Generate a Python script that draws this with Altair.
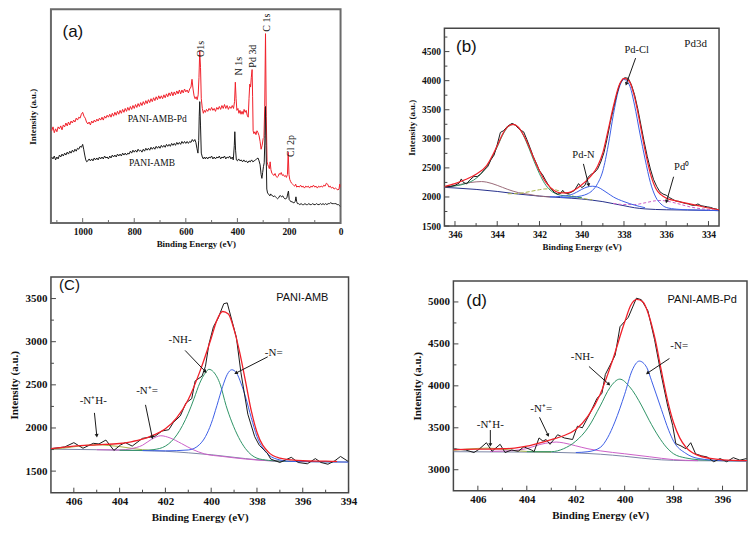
import altair as alt
import pandas as pd

SERIF = "Liberation Serif"
SANS = "Liberation Sans"
INK = "#111111"
FRAME = "#474747"
RED = "#f0202a"
BLACK = "#1a1a1a"
BLUE = "#3c5ee6"
GREEN = "#2f9466"
PINK = "#cc5fc8"
OLIVE = "#a9b548"
NAVY = "#26308c"
MAUVE = "#9a6a78"
BGGRAY = "#7b86a6"

# ---------------- panel (a): survey spectra (binding energy, arbitrary intensity) ----------------
a_red = [(1120,95),(1115,99),(1110,93),(1105,97),(1100,94),(1095,99),(1090,97),(1085,100),(1080,96),(1075,101),
 (1070,99),(1065,103),(1060,100),(1055,104),(1050,101),(1045,105),(1040,103),(1035,106),(1030,104),(1025,108),
 (1020,106),(1015,109),(1010,108),(1005,112),(1000,114),(995,110),(990,108),(985,104),(980,102),(975,104),
 (970,101),(965,105),(960,103),(955,106),(950,104),(945,107),(940,105),(935,108),(930,106),(925,109),
 (920,106),(915,110),(910,108),(905,111),(900,109),(895,112),(890,109),(885,113),(880,110),(875,114),
 (870,111),(865,115),(860,112),(855,116),(850,113),(845,117),(840,114),(835,118),(830,115),(825,119),
 (820,116),(815,120),(810,117),(805,121),(800,118),(795,122),(790,119),(785,123),(780,120),(775,124),
 (770,121),(765,125),(760,122),(755,126),(750,123),(745,127),(740,124),(735,128),(730,125),(725,129),
 (720,126),(715,130),(710,127),(705,131),(700,128),(695,131),(690,128),(685,132),(680,129),(675,133),
 (670,130),(665,134),(660,131),(655,135),(650,131),(645,135),(640,132),(635,136),(630,133),(625,137),
 (620,133),(615,137),(610,134),(605,138),(600,135),(595,137),(590,134),(585,138),(580,140),(576,148),
 (572,138),(568,131),(564,128),(560,130),(556,127),(552,132),(549,150),(546,177),(543,160),(540,128),
 (536,118),(532,113),(528,116),(524,114),(520,117),(515,115),(510,118),(505,116),(500,119),(495,116),
 (490,118),(485,115),(480,119),(475,117),(470,120),(465,117),(460,121),(455,118),(450,122),(445,118),
 (440,121),(435,117),(430,120),(425,118),(420,121),(415,118),(411,125),(408,145),(405,128),(402,116),
 (398,118),(394,113),(390,116),(386,112),(382,115),(378,112),(374,117),(370,114),(366,116),(362,111),
 (358,109),(355,128),(352,143),(349,140),(346,150),(343,158),(341,130),(339,95),(336,92),(332,94),
 (328,91),(324,95),(320,93),(316,90),(312,84),(308,76),(304,80),(300,87),(297,88),(294,120),
 (291,195),(288,110),(285,63),(282,60),(279,58),(276,56),(273,63),(270,55),(266,51),(262,50),
 (258,49),(254,51),(250,48),(246,47),(242,48),(238,51),(234,50),(230,52),(226,49),(222,50),
 (218,48),(214,49),(210,47),(206,50),(203,73),(200,50),(197,45),(194,43),(190,41),(186,40),
 (182,39),(178,38),(174,40),(170,37),(165,38),(160,37),(155,39),(150,37),(145,38),(140,36),
 (135,38),(130,37),(125,38),(120,36),(115,38),(110,37),(105,39),(100,37),(95,38),(90,36),
 (85,38),(80,37),(75,38),(70,37),(65,39),(60,38),(55,41),(50,40),(45,37),(40,38),
 (35,36),(30,37),(25,35),(20,36),(15,35),(10,34),(6,35),(3,40),(1,37)]

a_blk = [(1120,68),(1115,66),(1110,69),(1105,65),(1100,68),(1095,66),(1090,70),(1085,68),(1080,71),(1075,69),
 (1070,72),(1065,70),(1060,73),(1055,71),(1050,74),(1045,72),(1040,75),(1035,73),(1030,76),(1025,74),
 (1020,77),(1015,76),(1010,79),(1005,78),(1000,81),(996,76),(992,70),(988,65),(984,63),(980,64),
 (975,66),(970,64),(965,66),(960,64),(955,67),(950,65),(945,67),(940,65),(935,68),(930,66),
 (925,68),(920,66),(915,69),(910,67),(905,68),(900,66),(895,69),(890,67),(885,70),(880,68),
 (875,70),(870,68),(865,71),(860,69),(855,71),(850,69),(845,72),(840,70),(835,72),(830,70),
 (825,72),(820,71),(815,74),(810,72),(805,75),(800,73),(795,75),(790,73),(785,76),(780,74),
 (775,75),(770,73),(765,76),(760,74),(755,77),(750,75),(745,77),(740,75),(735,78),(730,76),
 (725,78),(720,76),(715,79),(710,77),(705,79),(700,77),(695,80),(690,78),(685,80),(680,78),
 (675,81),(670,79),(665,81),(660,79),(655,82),(650,80),(645,82),(640,80),(635,83),(630,81),
 (625,83),(620,81),(615,84),(610,82),(605,84),(600,82),(595,84),(590,82),(585,84),(580,83),
 (575,86),(570,84),(565,86),(561,83),(557,77),(553,72),(550,85),(548,110),(546,125),(543,100),
 (540,72),(536,68),(532,66),(528,68),(524,66),(520,68),(515,66),(510,68),(505,67),(500,69),
 (495,66),(490,68),(485,66),(480,68),(475,67),(470,69),(465,66),(460,68),(455,67),(450,69),
 (445,66),(440,68),(435,67),(430,69),(425,66),(420,68),(416,65),(412,80),(410,94),(407,75),
 (404,65),(400,64),(395,66),(390,64),(385,65),(380,63),(375,65),(370,63),(365,64),(360,62),
 (355,64),(350,63),(345,65),(340,63),(335,64),(330,65),(325,66),(320,67),(316,64),(312,60),
 (308,50),(305,46),(302,52),(299,58),(296,62),(293,90),(291,120),(289,80),(286,35),(283,31),
 (280,30),(277,29),(274,28),(271,30),(268,29),(265,28),(262,28),(259,27),(256,28),(252,27),
 (248,26),(244,25),(240,26),(236,28),(232,28),(228,27),(224,28),(220,26),(216,25),(212,25),
 (208,26),(205,30),(202,33),(199,24),(196,23),(192,22),(188,22),(184,21),(180,21),(176,22),
 (173,27),(170,22),(167,20),(163,20),(158,19),(153,20),(148,19),(143,19),(138,20),(133,19),
 (128,19),(123,20),(118,19),(113,19),(108,20),(103,19),(98,19),(93,20),(88,19),(83,19),
 (78,20),(73,19),(68,20),(63,19),(58,20),(53,19),(48,20),(43,20),(38,21),(33,20),
 (28,20),(23,20),(18,20),(13,19),(8,19),(4,18),(1,17)]

a_xmaj = [0, 200, 400, 600, 800, 1000]
a_xmin = [100, 300, 500, 700, 900, 1100]
a_tag = [("(a)", 1038, 197)]
a_names = [("PANI-AMB-Pd", 711, 107), ("PANI-AMB", 731, 62)]
a_peaks = [("O1s", 540, 171), ("N 1s", 395, 152), ("Pd 3d", 338, 160), ("C 1s", 284, 197), ("Cl 2p", 192, 68)]

# ---------------- panel (b): Pd 3d ----------------
b_raw = [(346.45,2175),(346.2,2180),(346.0,2200),(345.8,2240),(345.7,2310),(345.6,2250),(345.45,2225),(345.3,2290),
 (345.1,2355),(344.95,2350),(344.8,2390),(344.6,2470),(344.45,2520),(344.3,2640),(344.15,2720),(344.0,2900),
 (343.85,3110),(343.7,3140),(343.5,3220),(343.3,3265),(343.15,3240),(343.0,3180),(342.85,3140),(342.75,3120),
 (342.6,2990),(342.45,2850),(342.3,2700),(342.15,2580),(342.0,2450),(341.85,2380),(341.7,2280),(341.55,2190),
 (341.4,2120),(341.3,2080),(341.15,2050),(341.0,2060),(340.9,2115),(340.8,2070),(340.65,2060),(340.5,2080),
 (340.35,2110),(340.15,2230),(340.0,2160),(339.85,2200),(339.7,2340),(339.55,2390),(339.4,2420),(339.25,2480),
 (339.1,2600),(338.95,2760),(338.8,3000),(338.65,3280),(338.5,3520),(338.35,3750),(338.2,3940),(338.05,4030),
 (337.95,4050),(337.8,4040),(337.65,3930),(337.5,3760),(337.35,3520),(337.2,3240),(337.05,2960),(336.9,2700),
 (336.75,2480),(336.6,2300),(336.45,2180),(336.3,2090),(336.15,2050),(336.0,2030),(335.85,1990),(335.7,1960),
 (335.55,1930),(335.4,1925),(335.25,1905),(335.1,1890),(334.95,1880),(334.8,1860),(334.65,1855),(334.5,1880),
 (334.35,1850),(334.2,1840),(334.05,1830),(333.9,1820),(333.75,1800),(333.6,1790),(333.5,1770)]
b_fit = [(346.5,2180),(346.0,2230),(345.5,2300),(345.0,2390),(344.5,2540),(344.0,2880),(343.75,3080),(343.5,3210),
 (343.25,3250),(343.0,3200),(342.75,3060),(342.5,2870),(342.25,2650),(342.0,2450),(341.75,2280),(341.5,2170),
 (341.25,2100),(341.0,2070),(340.75,2070),(340.5,2090),(340.25,2140),(340.0,2210),(339.75,2290),(339.5,2390),
 (339.25,2530),(339.0,2760),(338.75,3150),(338.5,3560),(338.25,3900),(338.0,4040),(337.75,3990),(337.5,3720),
 (337.25,3280),(337.0,2800),(336.75,2400),(336.5,2150),(336.25,2040),(336.0,1980),(335.5,1930),(335.0,1890),
 (334.5,1850),(334.0,1810),(333.5,1780)]
b_pdcl_32 = [(346.5,2180),(346.0,2190),(345.5,2230),(345.0,2320),(344.5,2520),(344.0,2860),(343.75,3060),(343.5,3200),
 (343.25,3245),(343.0,3200),(342.75,3050),(342.5,2840),(342.25,2610),(342.0,2400),(341.75,2230),(341.5,2120),
 (341.25,2060),(341.0,2030),(340.5,2010),(340.0,1990)]
b_pdn_32 = [(346.5,2165),(346.0,2195),(345.5,2235),(345.0,2260),(344.75,2265),(344.5,2255),(344.0,2200),(343.5,2130),
 (343.0,2075),(342.5,2045),(342.0,2015),(341.5,2000)]
b_pd0_32 = [(343.5,2055),(343.0,2060),(342.5,2090),(342.0,2125),(341.75,2138),(341.5,2140),(341.25,2125),(341.0,2095),
 (340.75,2060),(340.5,2025),(340.0,1980),(339.5,1950)]
b_pdn_52 = [(341.5,2000),(341.0,2010),(340.5,2040),(340.25,2080),(340.0,2130),(339.75,2170),(339.5,2185),(339.25,2170),
 (339.0,2120),(338.75,2060),(338.5,2000),(338.0,1920),(337.5,1860),(337.0,1815)]
b_pdcl_52 = [(341.0,1990),(340.5,1995),(340.0,2020),(339.75,2050),(339.5,2110),(339.25,2230),(339.0,2450),(338.75,2880),
 (338.5,3420),(338.25,3850),(338.0,4020),(337.75,3930),(337.5,3580),(337.25,3100),(337.0,2650),(336.75,2250),
 (336.5,2000),(336.25,1880),(336.0,1820),(335.5,1790),(335.0,1780),(334.5,1775),(334.0,1770),(333.5,1765)]
b_pd0_52 = [(338.5,1890),(338.0,1870),(337.5,1870),(337.0,1900),(336.5,1935),(336.25,1940),(336.0,1930),(335.5,1890),
 (335.0,1840),(334.5,1805),(334.0,1785),(333.5,1770)]
b_bg = [(346.5,2165),(346.0,2155),(345.0,2130),(344.0,2095),(343.0,2050),(342.0,2015),(341.0,1990),(340.0,1965),
 (339.5,1945),(339.0,1920),(338.5,1885),(338.0,1850),(337.5,1815),(337.0,1795),(336.5,1785),(336.0,1780),
 (335.0,1775),(334.0,1770),(333.5,1765)]
b_xmaj = [334, 336, 338, 340, 342, 344, 346]
b_xmin = [335, 337, 339, 341, 343, 345]
b_ymaj = [1500, 2000, 2500, 3000, 3500, 4000, 4500]
b_ymin = [1750, 2250, 2750, 3250, 3750, 4250, 4750]
b_tag = [("(b)", 345.46, 4572)]
b_title = [("Pd3d", 334.61, 4638)]
b_peaks = [("Pd-Cl", 337.40, 4522), ("Pd-N", 339.92, 2717), ("Pd⁰", 335.27, 2515)]
b_arrows = [(337.45, 4388, 337.88, 3953, 199), (339.92, 2569, 339.68, 2214, 167), (335.65, 2348, 335.98, 1930, 196)]

# ---------------- panel (c): N 1s, PANI-AMB ----------------
c_raw = [(407.0,1760),(406.4,1780),(406.0,1830),(405.6,1765),(405.15,1822),(404.9,1815),(404.6,1860),(404.25,1740),
 (403.95,1805),(403.75,1830),(403.45,1790),(403.0,1880),(402.75,1890),(402.45,1905),(402.15,1965),(401.85,1980),
 (401.65,2065),(401.35,2140),(401.1,2290),(400.85,2340),(400.7,2545),(400.4,2600),(400.25,2715),(400.1,2970),
 (399.9,3175),(399.7,3270),(399.45,3440),(399.3,3450),(399.1,3250),(398.9,3050),(398.7,2640),(398.4,2160),
 (398.1,1900),(397.9,1800),(397.55,1710),(397.4,1640),(397.0,1600),(396.5,1660),(396.2,1600),(395.8,1585),
 (395.45,1645),(395.2,1600),(394.9,1580),(394.6,1620),(394.35,1670),(394.0,1610)]
c_fit = [(407.0,1760),(406.0,1790),(405.0,1805),(404.0,1820),(403.5,1840),(403.0,1870),(402.5,1920),(402.0,1990),
 (401.5,2120),(401.0,2330),(400.5,2650),(400.0,3040),(399.75,3250),(399.5,3350),(399.25,3320),(399.0,3140),
 (398.75,2870),(398.5,2540),(398.25,2200),(398.0,1950),(397.5,1720),(397.0,1650),(396.5,1630),(396.0,1620),
 (395.0,1615),(394.5,1612)]
c_nh = [(404.0,1742),(403.0,1740),(402.5,1750),(402.0,1790),(401.5,1920),(401.0,2170),(400.75,2340),(400.5,2520),
 (400.25,2640),(400.1,2680),(399.9,2650),(399.6,2500),(399.35,2260),(399.1,2070),(398.8,1890),(398.5,1760),
 (398.0,1650),(397.5,1625),(397.0,1615),(396.0,1612),(395.0,1610),(394.5,1610)]
c_n = [(403.0,1738),(402.0,1735),(401.0,1745),(400.5,1810),(400.25,1900),(400.0,2050),(399.75,2260),(399.5,2480),
 (399.3,2620),(399.1,2675),(398.9,2640),(398.7,2520),(398.5,2360),(398.25,2120),(398.0,1900),(397.75,1770),
 (397.5,1690),(397.0,1630),(396.5,1612),(396.0,1610),(395.0,1608),(394.0,1605)]
c_nplus = [(405.0,1748),(404.0,1745),(403.5,1760),(403.0,1800),(402.6,1870),(402.2,1910),(401.8,1885),(401.3,1820),
 (400.8,1750),(400.3,1700),(399.5,1670),(398.5,1640),(397.5,1620),(396.5,1612)]
c_nhplus = [(407.0,1752),(406.5,1765),(406.0,1782),(405.5,1798),(405.0,1805),(404.5,1798),(404.0,1785),(403.5,1765),
 (403.0,1748),(402.5,1738)]
c_bg = [(407.0,1755),(405.0,1748),(403.0,1738),(402.0,1730),(401.0,1712),(400.0,1690),(399.0,1660),(398.0,1632),
 (397.0,1615),(396.0,1610),(394.0,1605)]
c_xmaj = [394, 396, 398, 400, 402, 404, 406]
c_xmin = [395, 397, 399, 401, 403, 405]
c_ymaj = [1500, 2000, 2500, 3000, 3500]
c_ymin = [1750, 2250, 2750, 3250]
c_tag = [("(C)", 406.19, 3660)]
c_name = [("PANI-AMB", 396.02, 3511)]
c_peaks = [("-NH-", 401.36, 3018), ("-N=", 397.27, 2869), ("-N⁺=", 402.8, 2424), ("-N⁺H-", 405.15, 2313)]
c_arrows = [(401.14, 2899, 400.27, 2658, 137), (397.53, 2825, 398.9, 2639, 242),
            (402.87, 2268, 402.58, 1897, 169), (405.1, 2175, 405.0, 1916, 174)]

# ---------------- panel (d): N 1s, PANI-AMB-Pd ----------------
d_raw = [(406.9,3246),(406.5,3235),(406.16,3205),(405.96,3242),(405.65,3322),(405.42,3220),(405.09,3303),(404.89,3205),
 (404.62,3235),(404.35,3220),(404.12,3273),(403.81,3235),(403.7,3216),(403.5,3379),(403.34,3341),(403.21,3360),
 (403.05,3303),(402.74,3417),(402.47,3379),(402.13,3360),(401.93,3519),(401.73,3500),(401.4,3682),(401.13,3852),
 (400.93,3909),(400.79,4136),(400.39,4364),(400.19,4705),(399.85,4818),(399.52,5045),(399.32,5027),(399.05,4894),
 (398.78,4553),(398.51,4136),(398.24,3758),(398.04,3530),(397.91,3311),(397.7,3284),(397.5,3250),(397.3,3322),
 (397.1,3189),(396.85,3165),(396.63,3152),(396.36,3095),(396.1,3133),(395.83,3095),(395.56,3144),(395.29,3114),
 (395.02,3133)]
d_fit = [(407.0,3240),(406.0,3245),(405.0,3250),(404.5,3258),(404.0,3280),(403.5,3318),(403.0,3360),(402.5,3405),
 (402.0,3480),(401.5,3640),(401.0,3900),(400.5,4300),(400.0,4760),(399.75,4960),(399.5,5030),(399.25,5000),
 (399.0,4830),(398.75,4550),(398.5,4180),(398.25,3830),(398.0,3560),(397.75,3380),(397.5,3270),(397.0,3170),
 (396.5,3135),(396.0,3118),(395.0,3108)]
d_nh = [(404.0,3215),(403.0,3215),(402.5,3250),(402.0,3340),(401.5,3500),(401.0,3760),(400.6,3980),(400.2,4080),
 (399.8,3990),(399.3,3760),(399.0,3590),(398.6,3390),(398.3,3270),(398.0,3190),(397.5,3140),(397.0,3120),
 (396.0,3108),(395.0,3105)]
d_n = [(402.0,3205),(401.5,3215),(401.0,3265),(400.7,3380),(400.4,3570),(400.0,3900),(399.7,4180),(399.4,4295),
 (399.1,4220),(398.9,4060),(398.5,3720),(398.2,3470),(398.0,3340),(397.5,3195),(397.0,3135),(396.0,3108),(395.0,3105)]
d_nplus = [(405.5,3218),(405.0,3222),(404.5,3230),(404.0,3252),(403.5,3298),(403.0,3326),(402.8,3330),(402.5,3320),
 (402.0,3285),(401.5,3250),(401.0,3225),(400.0,3190),(399.0,3155),(398.0,3120),(397.0,3108)]
d_nhplus = [(407.0,3232),(406.5,3245),(406.0,3254),(405.6,3258),(405.0,3245),(404.5,3228),(404.0,3218),(403.0,3212)]
d_bg = [(407.0,3215),(405.0,3212),(403.0,3208),(402.0,3200),(401.0,3185),(400.0,3160),(399.3,3138),(398.5,3118),
 (398.0,3112),(397.0,3107),(395.0,3105)]
d_xmaj = [396, 398, 400, 402, 404, 406]
d_xmin = [397, 399, 401, 403, 405]
d_ymaj = [3000, 3500, 4000, 4500, 5000]
d_ymin = [3250, 3750, 4250, 4750]
d_tag = [("(d)", 406.05, 5008)]
d_name = [("PANI-AMB-Pd", 396.83, 5027)]
d_peaks = [("-NH-", 401.73, 4345), ("-N=", 397.77, 4477), ("-N⁺=", 403.41, 3720), ("-N⁺H-", 405.49, 3530)]
d_arrows = [(401.46, 4231, 400.66, 4023, 133), (398.17, 4326, 399.05, 4155, 235),
            (403.48, 3625, 403.14, 3417, 156), (405.49, 3473, 405.49, 3303, 180)]


def pts_df(pts):
    return pd.DataFrame({"e": [p[0] for p in pts], "v": [p[1] for p in pts], "i": list(range(len(pts)))})


def txt_df(items):
    return pd.DataFrame({"s": [t[0] for t in items], "e": [t[1] for t in items], "v": [t[2] for t in items]})


def build(p):
    W, H = p["w"], p["h"]
    xsc = alt.Scale(domain=p["xdom"], nice=False, zero=False)
    ysc = alt.Scale(domain=p["ydom"], nice=False, zero=False)
    xax = alt.Axis(title="Binding Energy (eV)", values=p["xmaj"], format="d", ticks=False, domain=False,
                   grid=False, labelFont=SERIF, labelFontWeight="bold", labelFontSize=p["lab"],
                   labelColor=INK, labelPadding=3, labelFlush=False, titleFont=SERIF,
                   titleFontWeight="bold", titleFontSize=p["tit"], titleColor=INK, titlePadding=p["xtp"])
    if p["ymaj"]:
        yax = alt.Axis(title="Intensity (a.u.)", values=p["ymaj"], format="d", ticks=False, domain=False,
                       grid=False, labelFont=SERIF, labelFontWeight="bold", labelFontSize=p["lab"],
                       labelColor=INK, labelPadding=4, labelFlush=False, titleFont=SERIF,
                       titleFontWeight="bold", titleFontSize=p["tit"], titleColor=INK, titlePadding=p["ytp"])
    else:
        yax = alt.Axis(title="Intensity (a.u.)", labels=False, ticks=False, domain=False, grid=False,
                       titleFont=SERIF, titleFontWeight="bold", titleFontSize=p["tit"], titleColor=INK,
                       titlePadding=p["ytp"])

    def X(f):
        return alt.X(f + ":Q", scale=xsc, axis=xax)

    def Y(f):
        return alt.Y(f + ":Q", scale=ysc, axis=yax)

    layers = []
    for pts, color, sw, dash, interp in p["curves"]:
        kw = dict(color=color, strokeWidth=sw, interpolate=interp, clip=True)
        if dash:
            kw["strokeDash"] = dash
        layers.append(alt.Chart(pts_df(pts)).mark_line(**kw).encode(x=X("e"), y=Y("v"), order="i:Q"))
    for vals, size in ((p["xmaj"], 5), (p["xmin"], 3)):
        layers.append(alt.Chart(pd.DataFrame({"t": vals})).mark_rule(color=p["fc"], strokeWidth=1).encode(
            x=X("t"), y=alt.value(H), y2=alt.value(H - size)))
    for vals, size in ((p["ymaj"], 5), (p["ymin"], 3)):
        if vals:
            layers.append(alt.Chart(pd.DataFrame({"t": vals})).mark_rule(color=p["fc"], strokeWidth=1).encode(
                y=Y("t"), x=alt.value(0), x2=alt.value(size)))
    for items, style in p["texts"]:
        layers.append(alt.Chart(txt_df(items)).mark_text(**style).encode(x=X("e"), y=Y("v"), text="s:N"))
    if p["arrows"]:
        adf = pd.DataFrame(p["arrows"], columns=["e", "v", "e2", "v2", "a"])
        layers.append(alt.Chart(adf).mark_rule(color=BLACK, strokeWidth=1).encode(
            x=X("e"), y=Y("v"), x2="e2:Q", y2="v2:Q"))
        layers.append(alt.Chart(adf).mark_point(shape="triangle", filled=True, size=16, color=BLACK,
                                                opacity=1).encode(
            x=X("e2"), y=Y("v2"), angle=alt.Angle("a:Q", scale=None)))
    return alt.layer(*layers).properties(
        width=W, height=H, view=alt.ViewBackground(stroke=p["fc"], strokeWidth=p["fw"]))


def spacer(w, h):
    return alt.Chart(pd.DataFrame({"z": [0]})).mark_point(
        opacity=0, size=1, strokeWidth=0, filled=True).encode(
        x=alt.X("z:Q", axis=None), y=alt.Y("z:Q", axis=None)).properties(width=w, height=h)


tag_style = dict(font=SANS, fontSize=17, color=INK, align="center", baseline="middle")
name_style = dict(font=SANS, fontSize=11, color=INK, align="center", baseline="middle")
note_style = dict(font=SERIF, fontSize=11, color=INK, align="center", baseline="middle")

A = build(dict(w=290, h=214, xdom=[1123, 0], ydom=[0, 220], xmaj=a_xmaj, xmin=a_xmin, ymaj=[], ymin=[],
               lab=9.5, tit=9, xtp=4, ytp=13, fc="#6a6a6a", fw=2,
               curves=[(a_red, RED, 1, None, "linear"), (a_blk, BLACK, 1, None, "linear")],
               texts=[(a_tag, tag_style),
                      (a_names, dict(font=SERIF, fontSize=9.5, color=INK, align="center", baseline="middle")),
                      (a_peaks, dict(font=SERIF, fontSize=10, color=INK, align="left", baseline="middle",
                                     angle=270))],
               arrows=[]))

B = build(dict(w=275, h=198, xdom=[346.5, 333.5], ydom=[1500, 4900], xmaj=b_xmaj, xmin=b_xmin,
               ymaj=b_ymaj, ymin=b_ymin, lab=9.5, tit=9, xtp=4, ytp=5, fc=FRAME, fw=1.5,
               curves=[(b_bg, NAVY, 1, None, "monotone"), (b_pdn_32, MAUVE, 1, None, "monotone"),
                       (b_pd0_32, OLIVE, 1, [4, 2], "monotone"), (b_pd0_52, PINK, 1, [3, 2], "monotone"),
                       (b_pdcl_32, GREEN, 1, None, "monotone"), (b_pdn_52, BLUE, 1, None, "monotone"),
                       (b_pdcl_52, BLUE, 1, None, "monotone"), (b_raw, BLACK, 1, None, "linear"),
                       (b_fit, RED, 1.2, None, "monotone")],
               texts=[(b_tag, tag_style), (b_title, note_style),
                      (b_peaks, dict(font=SERIF, fontSize=10.5, color=INK, align="center", baseline="middle"))],
               arrows=b_arrows))

C = build(dict(w=298, h=216, xdom=[407, 394], ydom=[1250, 3750], xmaj=c_xmaj, xmin=c_xmin,
               ymaj=c_ymaj, ymin=c_ymin, lab=11, tit=11, xtp=5, ytp=5, fc=FRAME, fw=1.5,
               curves=[(c_bg, BGGRAY, 1, None, "monotone"), (c_nhplus, OLIVE, 1, None, "monotone"),
                       (c_nplus, PINK, 1, None, "monotone"), (c_nh, GREEN, 1, None, "monotone"),
                       (c_n, BLUE, 1, None, "monotone"), (c_raw, BLACK, 1, None, "linear"),
                       (c_fit, RED, 1.3, None, "monotone")],
               texts=[(c_tag, dict(tag_style, fontSize=15)), (c_name, name_style), (c_peaks, note_style)],
               arrows=c_arrows))

D = build(dict(w=294, h=210, xdom=[407, 395], ydom=[2750, 5250], xmaj=d_xmaj, xmin=d_xmin,
               ymaj=d_ymaj, ymin=d_ymin, lab=11, tit=11, xtp=5, ytp=5, fc=FRAME, fw=1.5,
               curves=[(d_bg, BGGRAY, 1, None, "monotone"), (d_nhplus, OLIVE, 1, None, "monotone"),
                       (d_nplus, PINK, 1, None, "monotone"), (d_nh, GREEN, 1, None, "monotone"),
                       (d_n, BLUE, 1, None, "monotone"), (d_raw, BLACK, 1, None, "linear"),
                       (d_fit, RED, 1.3, None, "monotone")],
               texts=[(d_tag, tag_style), (d_name, name_style), (d_peaks, note_style)],
               arrows=d_arrows))

row1 = alt.hconcat(A, spacer(62, 20),
                   alt.vconcat(spacer(1, 18), B, spacing=0),
                   spacing=0)
row2 = alt.hconcat(C, spacer(53, 20),
                   alt.vconcat(spacer(1, 3), D, spacing=0),
                   spacing=0)
chart = alt.vconcat(row1, row2, spacing=23, padding=0).configure_view(strokeWidth=0)

chart.save("out.html", embed_options={"renderer": "svg", "actions": False})
